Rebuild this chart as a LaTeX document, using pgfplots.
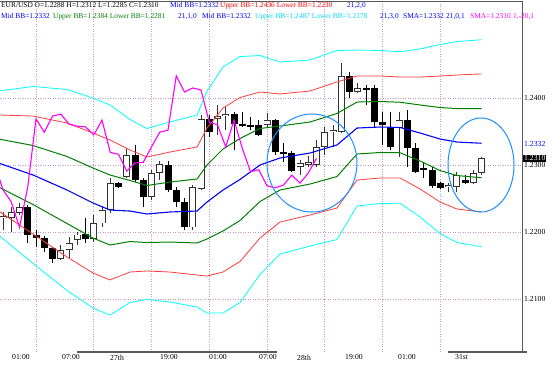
\documentclass[border=0pt]{standalone}
\usepackage{fontspec}
\setmainfont{Liberation Serif}
\usepackage{pgfplots}
\usepackage{pgfplotstable}
\pgfplotsset{compat=1.18}
\definecolor{mtblue}{RGB}{0,0,255}
\definecolor{mtgreen}{RGB}{0,128,0}
\definecolor{mtred}{RGB}{255,60,60}
\definecolor{mtredt}{RGB}{255,0,0}
\definecolor{mtcyan}{RGB}{0,255,255}
\definecolor{mtcyant}{RGB}{0,220,240}
\definecolor{mtmag}{RGB}{255,0,255}
\definecolor{gridc}{RGB}{205,150,190}
\definecolor{circ}{RGB}{30,144,255}

\pgfplotstableread{
k o h l c
1 1.2221 1.2230 1.2203 1.2224
2 1.2221 1.2237 1.2200 1.2230
3 1.2228 1.2243 1.2225 1.2237
8 1.2160 1.2181 1.2158 1.2173
9 1.2173 1.2193 1.2161 1.2184
10 1.2188 1.2200 1.2181 1.2196
12 1.2190 1.2225 1.2185 1.2213
13 1.2213 1.2237 1.2207 1.2233
14 1.2233 1.2281 1.2228 1.2273
16 1.2282 1.2325 1.2281 1.2315
19 1.2252 1.2293 1.2248 1.2288
20 1.2288 1.2306 1.2278 1.2301
24 1.2207 1.2270 1.2203 1.2267
25 1.2264 1.2375 1.2263 1.2369
27 1.2369 1.2390 1.2345 1.2373
28 1.2373 1.2387 1.2352 1.2376
33 1.2360 1.2378 1.2357 1.2367
37 1.2297 1.2307 1.2285 1.2303
38 1.2300 1.2313 1.2297 1.2304
39 1.2300 1.2337 1.2297 1.2327
40 1.2327 1.2357 1.2315 1.2349
41 1.2349 1.2360 1.2327 1.2352
42 1.2349 1.2452 1.2348 1.2433
44 1.2409 1.2422 1.2407 1.2415
49 1.2355 1.2379 1.2312 1.2367
55 1.2267 1.2273 1.2260 1.2270
56 1.2267 1.2290 1.2260 1.2285
58 1.2273 1.2293 1.2272 1.2288
59 1.2288 1.2312 1.2285 1.2310
}\bulls

\pgfplotstableread{
k o h l c
4 1.2237 1.2240 1.2184 1.2196
5 1.2196 1.2203 1.2178 1.2191
6 1.2191 1.2194 1.2170 1.2176
7 1.2176 1.2178 1.2154 1.2160
11 1.2197 1.2221 1.2184 1.2190
15 1.2273 1.2275 1.2266 1.2267
17 1.2315 1.2330 1.2275 1.2278
18 1.2278 1.2281 1.2237 1.2252
21 1.2300 1.2306 1.2260 1.2263
22 1.2263 1.2267 1.2237 1.2245
23 1.2245 1.2251 1.2203 1.2207
26 1.2369 1.2375 1.2342 1.2349
29 1.2376 1.2379 1.2322 1.2361
30 1.2361 1.2379 1.2357 1.2358
31 1.2360 1.2372 1.2352 1.2357
32 1.2360 1.2367 1.2343 1.2345
34 1.2367 1.2369 1.2315 1.2319
35 1.2319 1.2333 1.2304 1.2316
36 1.2318 1.2321 1.2290 1.2291
43 1.2433 1.2439 1.2400 1.2409
45 1.2415 1.2419 1.2390 1.2412
46 1.2415 1.2419 1.2357 1.2364
47 1.2364 1.2379 1.2330 1.2360
48 1.2357 1.2379 1.2322 1.2327
50 1.2367 1.2382 1.2297 1.2325
51 1.2325 1.2333 1.2288 1.2290
52 1.2296 1.2303 1.2281 1.2293
53 1.2293 1.2297 1.2266 1.2269
54 1.2273 1.2275 1.2264 1.2266
57 1.2278 1.2285 1.2272 1.2273
}\bears

% SMA(1) shifted -20 bars
\pgfplotstableread{
k v
0 1.2301
1 1.2263
2 1.2245
3 1.2207
4 1.2267
5 1.2369
6 1.2349
7 1.2373
8 1.2376
9 1.2361
10 1.2358
11 1.2357
12 1.2345
13 1.2367
14 1.2319
15 1.2316
16 1.2291
17 1.2303
18 1.2304
19 1.2327
20 1.2349
21 1.2352
22 1.2433
23 1.2409
24 1.2415
25 1.2412
26 1.2364
27 1.2360
28 1.2327
29 1.2367
30 1.2325
31 1.2290
32 1.2293
33 1.2269
34 1.2266
35 1.2270
36 1.2285
37 1.2273
38 1.2288
39 1.2310
}\shifted

\pgfplotstableread{
k mid gu gl ru rl cu cl
0.64 1.23022 1.23384 1.22661 1.23746 1.22299 1.24108 1.21937
4.64 1.22851 1.23291 1.22410 1.23731 1.21970 1.24172 1.21530
8.76 1.22627 1.23127 1.22127 1.23627 1.21627 1.24127 1.21127
11.91 1.22433 1.22955 1.21910 1.23478 1.21388 1.24000 1.20866
13.97 1.22328 1.22851 1.21806 1.23373 1.21284 1.23896 1.20761
16.39 1.22313 1.22769 1.21858 1.23224 1.21403 1.23679 1.20948
18.45 1.22269 1.22694 1.21843 1.23119 1.21418 1.23545 1.20993
21.24 1.22299 1.22746 1.21851 1.23194 1.21403 1.23642 1.20955
24.52 1.22313 1.22791 1.21836 1.23269 1.21358 1.23746 1.20881
25.73 1.22448 1.23000 1.21896 1.23552 1.21343 1.24104 1.20791
27.67 1.22627 1.23239 1.22015 1.23851 1.21403 1.24463 1.20791
29.73 1.22784 1.23396 1.22172 1.24007 1.21560 1.24619 1.20948
32.15 1.23000 1.23545 1.22455 1.24090 1.21910 1.24634 1.21366
34.58 1.23105 1.23582 1.22627 1.24060 1.22149 1.24537 1.21672
38.21 1.23179 1.23642 1.22716 1.24105 1.22254 1.24567 1.21791
41.48 1.23299 1.23769 1.22828 1.24239 1.22358 1.24709 1.21888
43.91 1.23552 1.23940 1.23164 1.24328 1.22776 1.24716 1.22388
46.70 1.23567 1.23948 1.23187 1.24329 1.22806 1.24709 1.22426
49.12 1.23560 1.23937 1.23183 1.24313 1.22806 1.24690 1.22429
51.55 1.23478 1.23896 1.23060 1.24313 1.22642 1.24732 1.22224
53.97 1.23388 1.23858 1.22918 1.24328 1.22448 1.24798 1.21978
56.03 1.23343 1.23843 1.22843 1.24343 1.22343 1.24843 1.21843
59 1.23325 1.2384 1.2281 1.2436 1.2230 1.2487 1.2178
}\bands

\begin{document}
\begin{tikzpicture}[font=\fontsize{7.4}{9}\selectfont]
\fill[white] (0,0) rectangle (556pt,365pt);
\path[use as bounding box] (0,0) rectangle (556pt,365pt);
\begin{axis}[
  at={(0pt,364pt)}, anchor=north west,
  scale only axis, width=522pt, height=351pt,
  xmin=0.636, xmax=63.909, ymin=1.20209, ymax=1.25448,
  axis line style={draw=none},
  major tick length=0pt,
  xtick={5,12,19,26,33,40,47,54}, xticklabels={},
  ytick={1.21,1.22,1.23,1.24}, yticklabels={1.2100,1.2200,1.2300,1.2400},
  yticklabel pos=right,
  tick label style={font=\fontsize{7.7}{9}\selectfont},
  yticklabel style={anchor=west, inner sep=0pt, xshift=2pt},
  xmajorgrids, ymajorgrids,
  grid style={gridc, dash pattern=on 1pt off 1.5pt, line width=0.6pt},
  extra x ticks={2.09,8.15,13.97,20.03,25.97,32.03,36.64,42.45,48.88,55.79},
  extra x tick labels={01:00,07:00,27th,19:00,01:00,07:00,28th,19:00,01:00,31st},
  extra x tick style={grid=none, xticklabel style={anchor=north west, inner sep=0pt, yshift=-2.5pt}},
]
% wicks
\addplot [draw=none, mark=none, forget plot, error bars/.cd, y dir=plus, y explicit, error mark=none,
  error bar style={draw=black!80, line width=0.8pt}]
  table [x=k, y=l, y error plus expr=\thisrow{h}-\thisrow{l}] {\bulls};
\addplot [draw=none, mark=none, forget plot, error bars/.cd, y dir=plus, y explicit, error mark=none,
  error bar style={draw=black, line width=0.8pt}]
  table [x=k, y=l, y error plus expr=\thisrow{h}-\thisrow{l}] {\bears};
% bull bodies: outline then white inside
\addplot [draw=none, mark=none, forget plot, error bars/.cd, y dir=plus, y explicit, error mark=none,
  error bar style={draw=black!80, line width=7pt}]
  table [x=k, y=o, y error plus expr=\thisrow{c}-\thisrow{o}] {\bulls};
\addplot [draw=none, mark=none, forget plot, error bars/.cd, y dir=plus, y explicit, error mark=none,
  error bar style={draw=white, line width=5.4pt, shorten <=0.8pt, shorten >=0.8pt}]
  table [x=k, y=o, y error plus expr=\thisrow{c}-\thisrow{o}] {\bulls};
% bear bodies
\addplot [draw=none, mark=none, forget plot, error bars/.cd, y dir=plus, y explicit, error mark=none,
  error bar style={draw=black, line width=7pt}]
  table [x=k, y=c, y error plus expr=\thisrow{o}-\thisrow{c}] {\bears};
% Bollinger bands
\addplot [mtcyan, line width=0.8pt, mark=none] table [x=k, y=cu] {\bands};
\addplot [mtcyan, line width=0.8pt, mark=none] table [x=k, y=cl] {\bands};
\addplot [mtred, line width=0.8pt, mark=none] table [x=k, y=ru] {\bands};
\addplot [mtred, line width=0.8pt, mark=none] table [x=k, y=rl] {\bands};
\addplot [mtgreen, line width=1pt, mark=none] table [x=k, y=gu] {\bands};
\addplot [mtgreen, line width=1pt, mark=none] table [x=k, y=gl] {\bands};
\addplot [mtblue, line width=1.1pt, mark=none] table [x=k, y=mid] {\bands};
% shifted SMA
\addplot [mtmag, line width=1.1pt, mark=none] table [x=k, y=v] {\shifted};
% annotations
\draw[circ, line width=1pt] (axis cs:38.45,1.2303) ellipse [x radius=45pt, y radius=49pt];
\draw[circ, line width=1pt] (axis cs:58.94,1.2300) ellipse [x radius=33pt, y radius=47pt];
\end{axis}
% frame
\draw[black!65, line width=0.8pt] (0pt,364pt) -- (522pt,364pt);
\draw[black!65, line width=0.8pt] (522pt,364.4pt) -- (522pt,12pt);
\draw[black!65, line width=1.2pt] (77pt,13pt) -- (277pt,13pt);
\draw[black!65, line width=1.2pt] (448pt,13pt) -- (527pt,13pt);
% price labels on the right
\node[anchor=west, inner sep=0pt, text=mtblue, font=\fontsize{7.7}{9}\selectfont] at (524pt,221.4pt) {1.2332};
\node[anchor=west, inner sep=1pt, fill=black, text=white, font=\fontsize{7.7}{9}\selectfont] at (523pt,206.7pt) {1.2310};
% header
\node[anchor=base west, inner sep=0pt] at (1pt,357pt) {EUR/USD O=1.2288 H=1.2312 L=1.2285 C=1.2310};
\node[anchor=base west, inner sep=0pt, text=mtblue] at (170pt,357pt) {Mid BB=1.2332};
\node[anchor=base west, inner sep=0pt, text=mtredt] at (220pt,357pt) {Upper BB=1.2436 Lower BB=1.2230};
\node[anchor=base west, inner sep=0pt, text=mtblue] at (347pt,357pt) {21,2,0};
\node[anchor=base west, inner sep=0pt, text=mtblue] at (1pt,346pt) {Mid BB=1.2332};
\node[anchor=base west, inner sep=0pt, text=mtgreen] at (53pt,346pt) {Upper BB=1.2384 Lower BB=1.2281};
\node[anchor=base west, inner sep=0pt, text=mtblue] at (178pt,346pt) {21,1,0};
\node[anchor=base west, inner sep=0pt, text=mtblue] at (202pt,346pt) {Mid BB=1.2332};
\node[anchor=base west, inner sep=0pt, text=mtcyant] at (255pt,346pt) {Upper BB=1.2487 Lower BB=1.2178};
\node[anchor=base west, inner sep=0pt, text=mtblue] at (380pt,346pt) {21,3,0};
\node[anchor=base west, inner sep=0pt, text=mtblue] at (403pt,346pt) {SMA=1.2332};
\node[anchor=base west, inner sep=0pt, text=mtblue] at (446pt,346pt) {21,0,1};
\node[anchor=base west, inner sep=0pt, text=mtmag] at (470pt,346pt) {SMA=1.2310};
\node[anchor=base west, inner sep=0pt, text=mtmag] at (513pt,346pt) {1,-20,1};
\end{tikzpicture}
\end{document}
